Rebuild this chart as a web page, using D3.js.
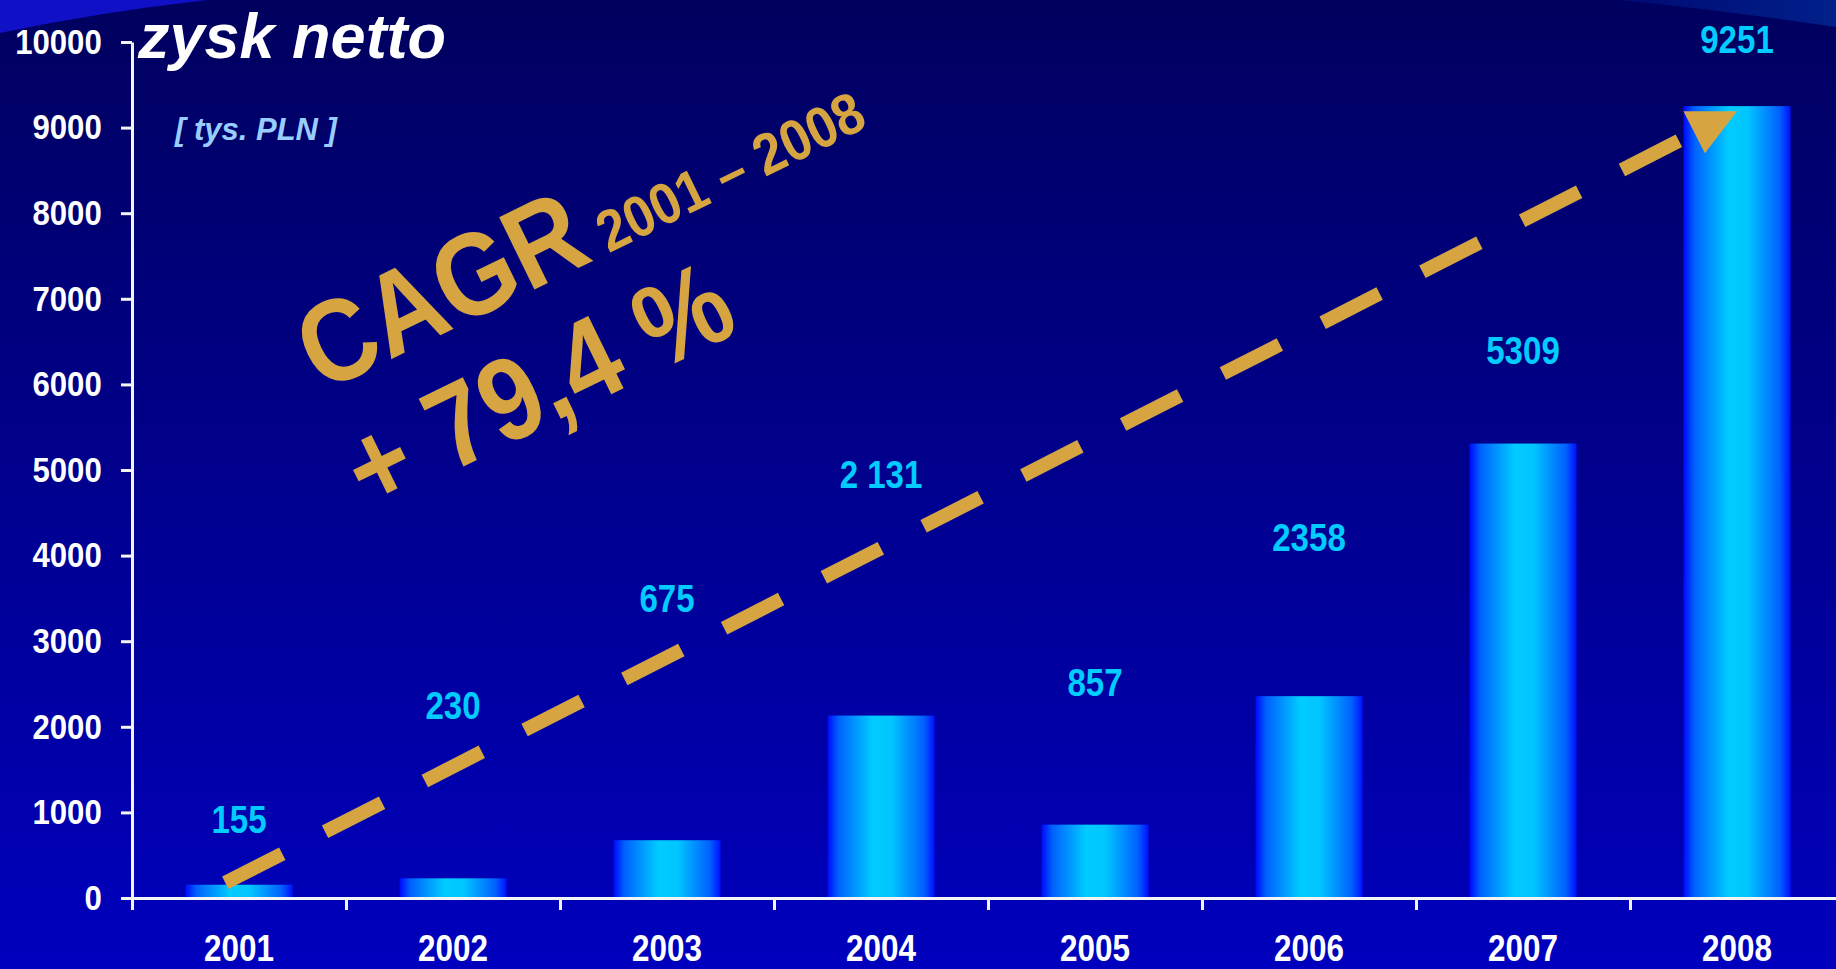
<!DOCTYPE html>
<html><head><meta charset="utf-8">
<script src="https://cdn.jsdelivr.net/npm/d3@7"></script>
<style>html,body{margin:0;padding:0;background:#00006a;overflow:hidden}</style>
</head><body><svg id="c" width="1836" height="969"></svg>
<script>
// ---- data ----
const years = ["2001","2002","2003","2004","2005","2006","2007","2008"];
const profit = [155, 230, 675, 2131, 857, 2358, 5309, 9251];
const valueLabels = ["155","230","675","2 131","857","2358","5309","9251"];
const labelLevels = [760, 2090, 3340, 4790, 2360, 4050, 6240, 9870]; // value-units where each label sits
const yTicks = [0,1000,2000,3000,4000,5000,6000,7000,8000,9000,10000];
const trendStart = [2000.936, 178];
const trendEnd = [2007.729, 8846];
const arrowHead = [[2007.75, 9190], [2008.0, 9190], [2007.85, 8700]];
const titleText = "zysk netto";
const unitText = "[ tys. PLN ]";
const cagrLabel = "CAGR", cagrPeriod = "2001 – 2008", cagrValue = "+ 79,4 %";

// ---- setup ----
const W = 1836, H = 969;
const svg = d3.select("#c");
const FONT = "'Liberation Sans', Arial, sans-serif";
const GOLD = "#d6a542";

const defs = svg.append("defs");
const bg = defs.append("linearGradient").attr("id","bg").attr("x1",0).attr("y1",0).attr("x2",0).attr("y2",1);
bg.append("stop").attr("offset","0").attr("stop-color","#00005e");
bg.append("stop").attr("offset","0.5").attr("stop-color","#00008e");
bg.append("stop").attr("offset","1").attr("stop-color","#0000be");
const bar = defs.append("linearGradient").attr("id","bar").attr("x1",0).attr("y1",0).attr("x2",1).attr("y2",0);
[["0","#0008ff"],["0.1","#0060ff"],["0.42","#00ccff"],["0.6","#00c6ff"],["0.9","#0060ff"],["1","#0010ff"]]
  .forEach(([o,c])=>bar.append("stop").attr("offset",o).attr("stop-color",c));
const tr = defs.append("linearGradient").attr("id","tr").attr("x1",0).attr("y1",0).attr("x2",1).attr("y2",0);
tr.append("stop").attr("offset","0").attr("stop-color","#000a74");
tr.append("stop").attr("offset","1").attr("stop-color","#00208a");

svg.append("rect").attr("width",W).attr("height",H).attr("fill","url(#bg)");
svg.append("path").attr("d","M0,0 L207,0 Q100,12 0,33 Z").attr("fill","#1010c6");
svg.append("path").attr("d","M1620,0 L1836,0 L1836,27 Q1720,10 1620,0 Z").attr("fill","url(#tr)");

// ---- scales ----
const x = d3.scaleBand().domain(years).range([132, 1844]).paddingInner(0.5).paddingOuter(0.25);
const y = d3.scaleLinear().domain([0, 10000]).range([898, 42]);
const cx = d => x(d) + x.bandwidth()/2;
const xYear = d3.scaleLinear().domain([2001, 2008]).range([cx("2001"), cx("2008")]);

// ---- bars ----
const data = years.map((yr,i)=>({yr, v: profit[i], label: valueLabels[i], lv: labelLevels[i]}));
svg.append("g").selectAll("rect").data(data).join("rect")
  .attr("x", d=>x(d.yr)).attr("width", x.bandwidth())
  .attr("y", d=>y(d.v)).attr("height", d=>y(0)-y(d.v))
  .attr("fill","url(#bar)");

// ---- axes ----
const yAxis = svg.append("g").attr("transform","translate(132,0)")
  .call(d3.axisLeft(y).tickValues(yTicks).tickSizeInner(11).tickSizeOuter(0).tickPadding(0).tickFormat(d3.format("d")));
yAxis.selectAll("text").attr("x", -34).attr("transform","scale(0.89,1)")
  .attr("fill","#ffffff").style("font-family",FONT).style("font-weight","bold").style("font-size","35px");

const bnd = d3.scaleLinear().domain([0, years.length]).range([132, 1844]);
svg.append("g").attr("transform","translate(0,898)")
  .call(d3.axisBottom(bnd).tickValues(d3.range(0, years.length+1)).tickSizeInner(12).tickSizeOuter(0).tickFormat(""));
const xLab = svg.append("g").attr("transform","translate(0,898)")
  .call(d3.axisBottom(x).tickSize(0).tickPadding(0));
xLab.select(".domain").remove();
xLab.selectAll("text").attr("y", 63).attr("dy", null).attr("transform","scale(0.85,1)")
  .attr("fill","#ffffff").style("font-family",FONT).style("font-weight","bold").style("font-size","37px");
xLab.selectAll(".tick").each(function(d){
  d3.select(this).attr("transform", `translate(${cx(d)},0)`);
});
svg.selectAll(".domain, .tick line").attr("stroke","#f4f4f4").attr("stroke-width",3);

// ---- value labels ----
svg.append("g").selectAll("text").data(data).join("text")
  .attr("transform", d=>`translate(${cx(d.yr)},${y(d.lv)}) scale(0.87,1)`)
  .attr("text-anchor","middle")
  .attr("fill","#00ccff").style("font-family",FONT).style("font-weight","bold").style("font-size","38px")
  .text(d=>d.label);

// ---- trend line ----
svg.append("path")
  .attr("d", d3.line().x(p=>xYear(p[0])).y(p=>y(p[1]))([trendStart, trendEnd]))
  .attr("stroke", GOLD).attr("stroke-width", 14).attr("fill","none")
  .attr("stroke-dasharray","64 48");
svg.append("path")
  .attr("d", d3.line().x(p=>xYear(p[0])).y(p=>y(p[1]))(arrowHead) + "Z")
  .attr("fill", GOLD);

// ---- titles ----
svg.append("text").attr("x",138).attr("y",58).attr("fill","#ffffff")
  .style("font-family",FONT).style("font-weight","bold").style("font-style","italic").style("font-size","63px")
  .text(titleText);
svg.append("text").attr("x",175).attr("y",140).attr("fill","#99ccff")
  .style("font-family",FONT).style("font-weight","bold").style("font-style","italic").style("font-size","31px")
  .text(unitText);

// ---- CAGR annotation ----
const cg = svg.append("g").attr("transform","translate(322,393) rotate(-26)")
  .attr("fill", GOLD).style("font-family",FONT).style("font-weight","bold");
cg.append("text").attr("x",0).attr("y",0).style("font-size","117px")
  .attr("textLength",304).attr("lengthAdjust","spacingAndGlyphs").text(cagrLabel);
cg.append("text").attr("x",319).attr("y",0).style("font-size","58px")
  .attr("textLength",290).attr("lengthAdjust","spacingAndGlyphs").text(cagrPeriod);
cg.append("text").attr("x",-10).attr("y",128).style("font-size","117px")
  .attr("textLength",415).attr("lengthAdjust","spacingAndGlyphs").text(cagrValue);
</script></body></html>
